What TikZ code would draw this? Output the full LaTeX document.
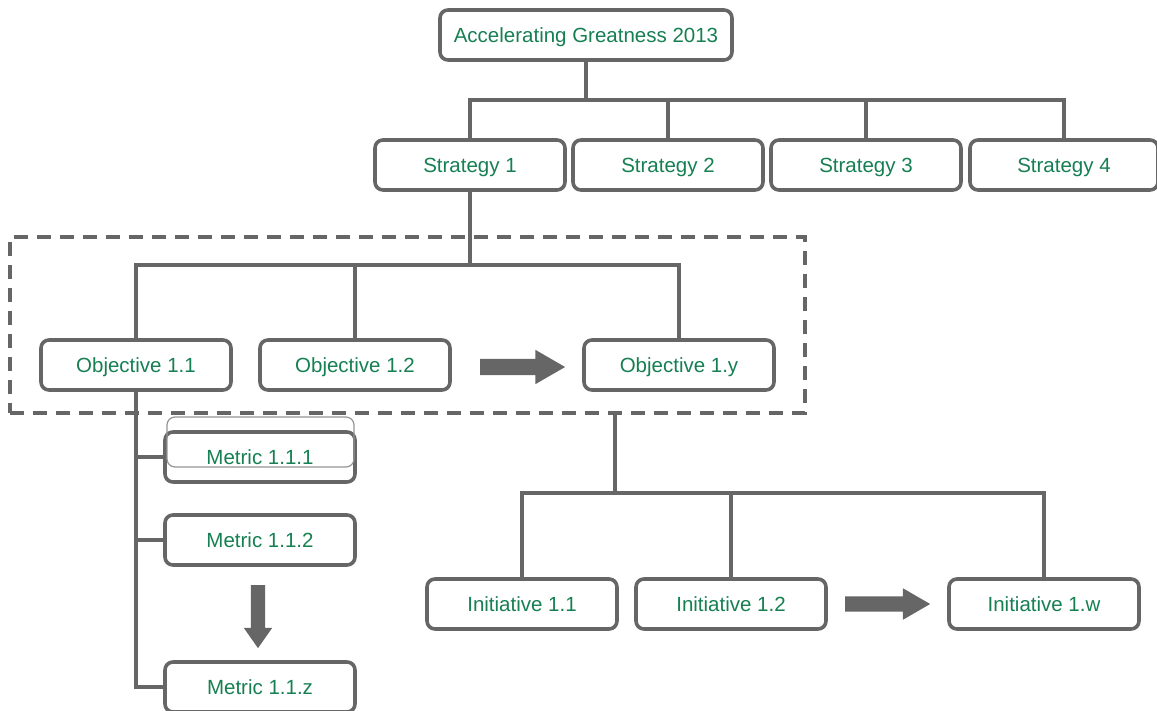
\documentclass[tikz,border=0pt]{standalone}
\usepackage{fontspec}
\setmainfont{Liberation Sans}
\usetikzlibrary{shapes.arrows}
\definecolor{linegray}{RGB}{102,102,102}
\definecolor{textgreen}{RGB}{22,128,82}
\begin{document}
\begin{tikzpicture}[
	x=1pt, y=-1pt,
	font=\fontsize{20.5}{24}\selectfont,
	link/.style={
		draw=linegray,
		line width=3.6pt
	},
	box/.style={
		draw=linegray,
		line width=3.6pt,
		rectangle,
		rounded corners=8pt,
		fill=white,
		text=textgreen,
		text height=15pt,
		text depth=0pt,
		minimum width=190pt,
		minimum height=50pt,
		inner sep=0pt
	},
	ghostbox/.style={
		draw=linegray!70,
		line width=1.2pt,
		rectangle,
		rounded corners=8pt,
		minimum width=187pt,
		minimum height=50pt
	},
	dashbox/.style={
		draw=linegray,
		line width=3.4pt,
		dash pattern=on 14pt off 9pt,
		rectangle,
		minimum width=795pt,
		minimum height=176pt
	},
	fatarrow/.style={
		single arrow,
		fill=linegray,
		inner xsep=0pt,
		single arrow head indent=0pt
	}
]
\useasboundingbox (0,0) rectangle (1157,710);

\node[dashbox] (grp) at (407.5,325) {};

\node[box, minimum width=292pt] (top) at (586,35) {Accelerating Greatness 2013};

\node[box] (s1) at (470,165) {Strategy 1};
\node[box] (s2) at (668,165) {Strategy 2};
\node[box] (s3) at (866,165) {Strategy 3};
\node[box, minimum width=188pt] (s4) at (1064,165) {Strategy 4};

\node[box] (o1) at (136,365) {Objective 1.1};
\node[box] (o2) at (355,365) {Objective 1.2};
\node[box] (oy) at (679,365) {Objective 1.y};

\node[box] (m1) at (260,457) {Metric 1.1.1};
\node[ghostbox] (ghost) at (260.5,442) {};
\node[box] (m2) at (260,540) {Metric 1.1.2};
\node[box] (mz) at (260,687) {Metric 1.1.z};

\node[box] (i1) at (522,604) {Initiative 1.1};
\node[box] (i2) at (731,604) {Initiative 1.2};
\node[box] (iw) at (1044,604) {Initiative 1.w};

\node[fatarrow, inner ysep=8pt, single arrow head extend=9pt,
	minimum height=85pt, single arrow tip angle=60] (arrO) at (515.5,367) {};
\node[fatarrow, inner ysep=7.5pt, single arrow head extend=8pt,
	minimum height=85pt, single arrow tip angle=60] (arrI) at (881,604) {};
\node[fatarrow, inner ysep=7pt, single arrow head extend=7pt,
	minimum height=63pt, single arrow tip angle=70, rotate=-90] (arrM) at (258,611.5) {};

\coordinate (busA) at (586,100);
\coordinate (busB) at (470,265);
\coordinate (busC) at (615,493);

\draw[link] (top.south) -- (busA);
\draw[link] (s1.north) |- (busA -| s4.north) -- (s4.north);
\draw[link] (s2.north) -- (s2.north |- busA);
\draw[link] (s3.north) -- (s3.north |- busA);

\draw[link] (s1.south) -- (busB);
\draw[link] (o1.north) |- (busB -| oy.north) -- (oy.north);
\draw[link] (o2.north) -- (o2.north |- busB);

\draw[link] (o1.south) |- (mz.west);
\draw[link] (m1.west) -- (m1.west -| o1.south);
\draw[link] (m2.west) -- (m2.west -| o1.south);

\draw[link] (grp.south -| busC) -- (busC);
\draw[link] (i1.north) |- (busC -| iw.north) -- (iw.north);
\draw[link] (i2.north) -- (i2.north |- busC);

\end{tikzpicture}
\end{document}
